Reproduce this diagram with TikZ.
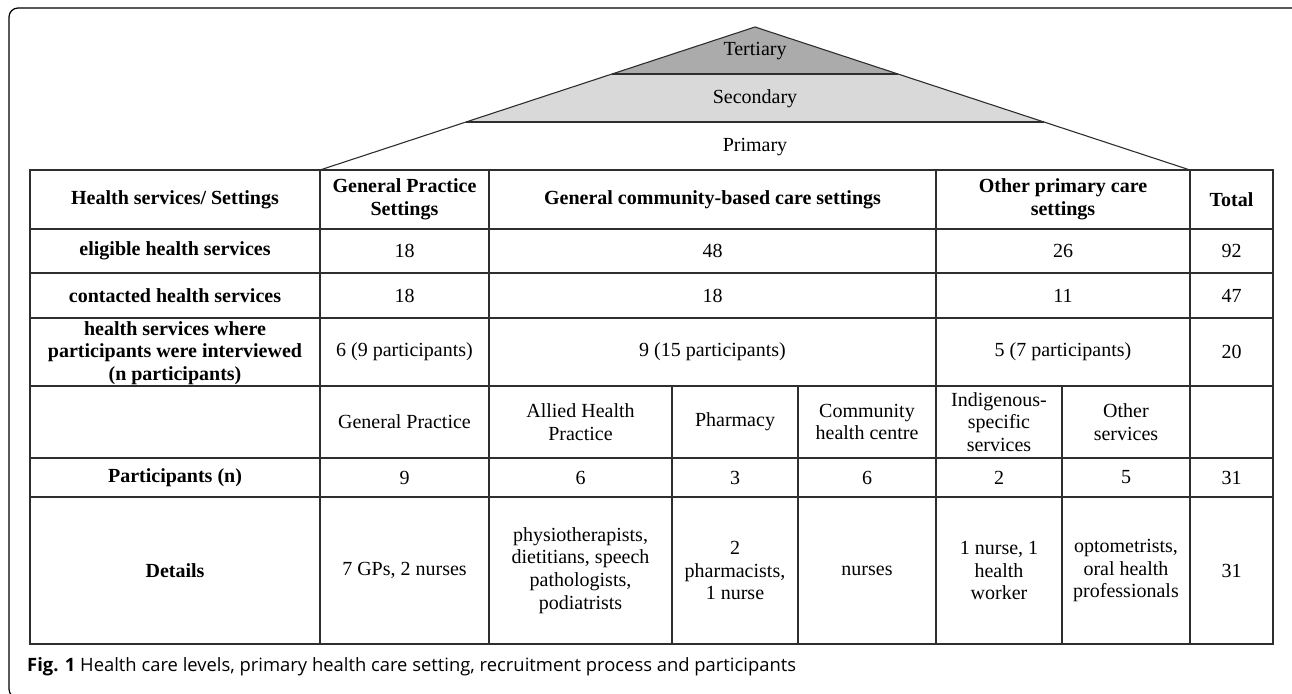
\documentclass[tikz,border=0pt]{standalone}
\usepackage{fontspec}
\setmainfont{Liberation Serif}
\newfontfamily\capfont{Open Sans}
\usetikzlibrary{calc}

\definecolor{tertgray}{HTML}{ABABAB}
\definecolor{secgray}{HTML}{D9D9D9}
\definecolor{rulegray}{HTML}{2E2E2E}

\tikzset{
  cell/.style={align=center, inner sep=0pt, font=\fontsize{20}{22.7}\selectfont},
  hcell/.style={cell, font=\fontsize{20}{22.7}\selectfont\bfseries},
  gridline/.style={line width=1.3pt, rulegray},
  triline/.style={line width=1.1pt, rulegray},
}

\begin{document}
\begin{tikzpicture}[x=1pt, y=-1pt]
    \useasboundingbox (0,0) rectangle (1292,693);

    % outer frame
    \draw[line width=1.2pt, rounded corners=9pt] (9,8) rectangle (1302,698);

    % care levels
    \coordinate (apex) at (755,27);
    \coordinate (pL) at (320,170);
    \coordinate (pR) at (1190,170);
    \coordinate (tL) at ($(apex)!0.329!(pL)$);
    \coordinate (tR) at ($(apex)!0.329!(pR)$);
    \coordinate (sL) at ($(apex)!0.664!(pL)$);
    \coordinate (sR) at ($(apex)!0.664!(pR)$);
    \fill[tertgray] (apex) -- (tL) -- (tR) -- cycle;
    \fill[secgray] (tL) -- (sL) -- (sR) -- (tR) -- cycle;
    \draw[triline] (pL) -- (apex) -- (pR);
    \draw[triline] (tL) -- (tR);
    \draw[triline] (sL) -- (sR);
    \node[cell] (tert) at (755,51) {Tertiary};
    \node[cell] (sec) at (755,99) {Secondary};
    \node[cell] (prim) at (755,147) {Primary};

    % table rules
    \draw[gridline] (30,170) rectangle (1273,644);
    \foreach \y in {229,273,318,386,458,497}
        \draw[gridline] (30,\y) -- (1273,\y);
    \foreach \x in {320,489,936,1190}
        \draw[gridline] (\x,170) -- (\x,644);
    \foreach \x in {672,798,1062}
        \draw[gridline] (\x,386) -- (\x,644);

    % header row
    \node[hcell] (hset) at (175,199.5) {Health services/ Settings};
    \node[hcell] (hgp) at (404.5,199.5) {General Practice\\Settings};
    \node[hcell] (hcom) at (712.5,199.5) {General community-based care settings};
    \node[hcell] (hoth) at (1063,199.5) {Other primary care\\settings};
    \node[hcell] (htot) at (1231.5,199.5) {Total};

    % eligible
    \node[hcell] (relig) at (175,251) {eligible health services};
    \node[cell] (eliggp) at (404.5,251) {18};
    \node[cell] (eligcom) at (712.5,251) {48};
    \node[cell] (eligoth) at (1063,251) {26};
    \node[cell] (eligtot) at (1231.5,251) {92};

    % contacted
    \node[hcell] (rcont) at (175,295.5) {contacted health services};
    \node[cell] (contgp) at (404.5,295.5) {18};
    \node[cell] (contcom) at (712.5,295.5) {18};
    \node[cell] (contoth) at (1063,295.5) {11};
    \node[cell] (conttot) at (1231.5,295.5) {47};

    % interviewed
    \node[hcell] (rint) at (175,353) {health services where\\participants were interviewed\\(n participants)};
    \node[cell] (intgp) at (404.5,352) {6 (9 participants)};
    \node[cell] (intcom) at (712.5,352) {9 (15 participants)};
    \node[cell] (intoth) at (1063,352) {5 (7 participants)};
    \node[cell] (inttot) at (1231.5,352) {20};

    % service types
    \node[cell] (tgp) at (404.5,422) {General Practice};
    \node[cell] (tallied) at (580.5,422) {Allied Health\\Practice};
    \node[cell] (tpharm) at (735,422) {Pharmacy};
    \node[cell] (tchc) at (867,422) {Community\\health centre};
    \node[cell] (tind) at (999,422) {Indigenous-\\specific\\services};
    \node[cell] (tother) at (1126,422) {Other\\services};

    % participants
    \node[hcell] (rpart) at (175,477.5) {Participants (n)};
    \node[cell] (pgp) at (404.5,477.5) {9};
    \node[cell] (pallied) at (580.5,477.5) {6};
    \node[cell] (ppharm) at (735,477.5) {3};
    \node[cell] (pchc) at (867,477.5) {6};
    \node[cell] (pind) at (999,477.5) {2};
    \node[cell] (pother) at (1126,477.5) {5};
    \node[cell] (ptot) at (1231.5,477.5) {31};

    % details
    \node[hcell] (rdet) at (175,570.5) {Details};
    \node[cell] (dgp) at (404.5,570.5) {7 GPs, 2 nurses};
    \node[cell] (dallied) at (580.5,570.5) {physiotherapists,\\dietitians, speech\\pathologists,\\podiatrists};
    \node[cell] (dpharm) at (735,570.5) {2\\pharmacists,\\1 nurse};
    \node[cell] (dchc) at (867,570.5) {nurses};
    \node[cell] (dind) at (999,570.5) {1 nurse, 1\\health\\worker};
    \node[cell] (dother) at (1126,570.5) {optometrists,\\oral health\\professionals};
    \node[cell] (dtot) at (1231.5,570.5) {31};

    % caption
    \node[anchor=west, inner sep=0pt, font=\capfont\fontsize{18.4}{21}\selectfont] (cap) at (27,667)
        {\textbf{Fig. 1} Health care levels, primary health care setting, recruitment process and participants};
\end{tikzpicture}
\end{document}
